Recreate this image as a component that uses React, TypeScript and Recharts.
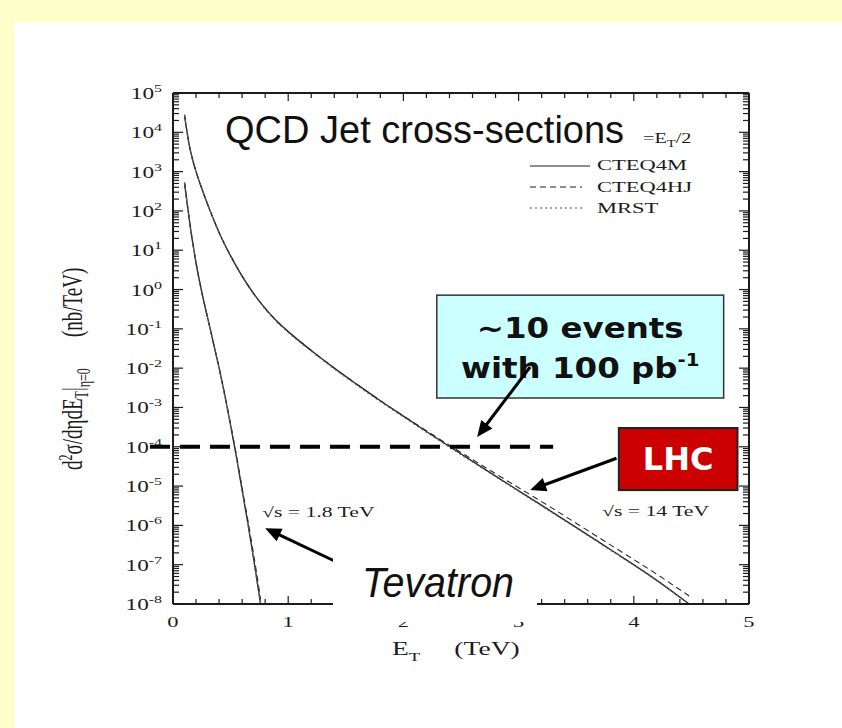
import React from 'react';
import { LineChart, Line, XAxis, YAxis, ReferenceLine, ReferenceArea } from 'recharts';

const W = 842;
const H = 728;

// ---- data: inclusive jet cross-section d2σ/dηdE_T at η=0 (nb/TeV) vs E_T (TeV) ----
const tevEt = [0.1, 0.125, 0.15, 0.175, 0.2, 0.25, 0.3, 0.35, 0.4, 0.45, 0.5, 0.55, 0.6, 0.65, 0.7, 0.75, 0.76];
const tevCteq4m = [525, 141, 39.8, 13.2, 4.79, 0.851, 0.195, 0.0447, 0.0102, 2.0e-3, 3.55e-4, 5.6e-5, 7.9e-6, 1.12e-6, 1.41e-7, 1.58e-8, 1.0e-8];
const tevCteq4hj = [525, 141, 39.8, 13.2, 4.79, 0.851, 0.195, 0.0447, 0.0104, 2.1e-3, 3.8e-4, 6.2e-5, 9.0e-6, 1.35e-6, 1.8e-7, 2.1e-8, 1.3e-8];
const tevMrst = [515, 139, 39.2, 13.0, 4.7, 0.835, 0.19, 0.0435, 0.0099, 1.94e-3, 3.45e-4, 5.4e-5, 7.6e-6, 1.08e-6, 1.36e-7, 1.52e-8, 1.0e-8];

const lhcEt = [0.1, 0.125, 0.15, 0.175, 0.2, 0.25, 0.3, 0.35, 0.4, 0.45, 0.5, 0.6, 0.7, 0.8, 0.9, 1.0, 1.2, 1.4, 1.6, 1.8, 2.0, 2.2, 2.43, 2.84, 3.27, 3.8, 4.2, 4.48];
const lhcCteq4m = [2.8e4, 8.9e3, 3.55e3, 1.78e3, 1.0e3, 372, 148, 63, 28.2, 13.8, 7.2, 2.19, 0.79, 0.331, 0.158, 0.085, 0.0282, 0.01, 3.8e-3, 1.48e-3, 6.0e-4, 2.45e-4, 8.9e-5, 1.51e-5, 2.4e-6, 2.4e-7, 4.0e-8, 1.0e-8];
const lhcCteq4hj = [2.8e4, 8.9e3, 3.55e3, 1.78e3, 1.0e3, 372, 148, 63, 28.2, 13.8, 7.2, 2.19, 0.79, 0.331, 0.158, 0.085, 0.0282, 0.01, 3.8e-3, 1.49e-3, 6.1e-4, 2.55e-4, 9.6e-5, 1.75e-5, 3.0e-6, 3.15e-7, 5.7e-8, 1.6e-8];
const lhcMrst = [2.75e4, 8.8e3, 3.5e3, 1.76e3, 990, 368, 146, 62, 27.6, 13.4, 7.0, 2.12, 0.76, 0.316, 0.15, 0.081, 0.0268, 9.5e-3, 3.6e-3, 1.4e-3, 5.7e-4, 2.33e-4, 8.5e-5, 1.45e-5, 2.3e-6, 2.3e-7, 3.9e-8, 1.0e-8];

const pdfNames = ['CTEQ4M', 'CTEQ4HJ', 'MRST'];
const pdfDash = ['', '6 4', '2 3'];

// axis ticks
const xMajor = [0, 1, 2, 3, 4, 5];
const xMinorPerUnit = 5;
const yDecades = [-8, -7, -6, -5, -4, -3, -2, -1, 0, 1, 2, 3, 4, 5];
const yMinorMult = [2, 3, 4, 5, 6, 7, 8, 9];

// annotations (data coordinates)
const tenEventsLevel = 1e-4;
const tenEventsSpan = [-0.2, 3.3];
const eventsBox = { x1: 2.29, x2: 4.78, y1: 0.72, y2: 1.74e-3 };
const lhcBox = { x1: 3.87, x2: 4.9, y1: 3.0e-4, y2: 7.9e-6 };
const eventsArrow = [{ x: 3.1, y: 1.07e-2 }, { x: 2.64, y: 1.78e-4 }];
const lhcArrow = [{ x: 3.85, y: 5.1e-5 }, { x: 3.1, y: 7.9e-6 }];
const tevArrow = [{ x: 1.42, y: 1.17e-7 }, { x: 0.8, y: 8.5e-7 }];

const toPoints = (xs: number[], ys: number[]) => xs.map((x, i) => ({ x, y: ys[i] }));
const tevSeries = [tevCteq4m, tevCteq4hj, tevMrst].map((ys) => toPoints(tevEt, ys));
const lhcSeries = [lhcCteq4m, lhcCteq4hj, lhcMrst].map((ys) => toPoints(lhcEt, ys));

const xTicks: number[] = [];
for (let i = 0; i < xMajor.length - 1; i++) {
  for (let k = 0; k < xMinorPerUnit; k++) xTicks.push(xMajor[i] + k / xMinorPerUnit);
}
xTicks.push(xMajor[xMajor.length - 1]);

const yTicks: number[] = [];
yDecades.forEach((d, i) => {
  yTicks.push(Math.pow(10, d));
  if (i < yDecades.length - 1) yMinorMult.forEach((m) => yTicks.push(m * Math.pow(10, d)));
});

const SERIF = '"Liberation Serif", "Times New Roman", serif';
const SANS = '"Liberation Sans", Arial, sans-serif';
const BOLD = '"DejaVu Sans", Verdana, sans-serif';
const INK = '#1c1c1c';

const isMajorY = (v: number) => Math.abs(Math.log10(v) - Math.round(Math.log10(v))) < 1e-6;
const isMajorX = (v: number) => Math.abs(v - Math.round(v)) < 1e-6;

const YTickLeft = (props: any) => {
  const { x, y, payload } = props;
  const v = payload.value;
  const major = isMajorY(v);
  const e = Math.round(Math.log10(v));
  return (
    <g>
      <line x1={x} y1={y} x2={x + (major ? 10 : 6)} y2={y} stroke={INK} strokeWidth={1.2} />
      {major && (
        <g transform={`translate(${x - 11},${y + 6}) scale(1.45,1)`}>
          <text textAnchor="end" fontFamily={SERIF} fontSize={16} fill={INK}>
            10
            <tspan dy={-7} fontSize={11}>
              {String(e)}
            </tspan>
          </text>
        </g>
      )}
    </g>
  );
};

const YTickRight = (props: any) => {
  const { x, y, payload } = props;
  const major = isMajorY(payload.value);
  return <line x1={x} y1={y} x2={x - (major ? 10 : 6)} y2={y} stroke={INK} strokeWidth={1.2} />;
};

const XTickBottom = (props: any) => {
  const { x, y, payload } = props;
  const v = payload.value;
  const major = isMajorX(v);
  return (
    <g>
      <line x1={x} y1={y} x2={x} y2={y - (major ? 8 : 5)} stroke={INK} strokeWidth={1.2} />
      {major && (
        <g transform={`translate(${x},${y + 23}) scale(1.5,1)`}>
          <text textAnchor="middle" fontFamily={SERIF} fontSize={15} fill={INK}>
            {Math.round(v)}
          </text>
        </g>
      )}
    </g>
  );
};

const XTickTop = (props: any) => {
  const { x, y, payload } = props;
  const major = isMajorX(payload.value);
  return <line x1={x} y1={y} x2={x} y2={y + (major ? 8 : 5)} stroke={INK} strokeWidth={1.2} />;
};

const arrowShape = (p: any) => {
  const { x1, y1, x2, y2 } = p;
  const dx = x2 - x1;
  const dy = y2 - y1;
  const len = Math.hypot(dx, dy) || 1;
  const ux = dx / len;
  const uy = dy / len;
  const hl = 16;
  const hw = 7;
  const bx = x2 - ux * hl;
  const by = y2 - uy * hl;
  return (
    <g>
      <line x1={x1} y1={y1} x2={bx + ux * 2} y2={by + uy * 2} stroke="#000" strokeWidth={3} />
      <polygon
        points={`${x2},${y2} ${bx - uy * hw},${by + ux * hw} ${bx + uy * hw},${by - ux * hw}`}
        fill="#000"
      />
    </g>
  );
};

const eventsBoxShape = (p: any) => {
  const { x, y, width, height } = p;
  const cx = x + width / 2;
  return (
    <g>
      <rect x={x} y={y} width={width} height={height} fill="#CCFFFF" stroke="#333" strokeWidth={1.5} />
      <g transform={`translate(${cx},${y + 43}) scale(1.16,1)`}>
        <text textAnchor="middle" fontFamily={BOLD} fontWeight="bold" fontSize={28} fill="#111">
          ~10 events
        </text>
      </g>
      <g transform={`translate(${cx},${y + 83}) scale(1.16,1)`}>
        <text textAnchor="middle" fontFamily={BOLD} fontWeight="bold" fontSize={28} fill="#111">
          with 100 pb
          <tspan dy={-12} fontSize={17}>
            -1
          </tspan>
        </text>
      </g>
    </g>
  );
};

const lhcBoxShape = (p: any) => {
  const { x, y, width, height } = p;
  return (
    <g>
      <rect x={x} y={y} width={width} height={height} fill="#CC0000" stroke="#222" strokeWidth={2} />
      <text
        x={x + width / 2}
        y={y + 42}
        textAnchor="middle"
        fontFamily={BOLD}
        fontWeight="bold"
        fontSize={32}
        fill="#fff"
      >
        LHC
      </text>
    </g>
  );
};

const Overlay = () => (
  <svg
    width={W}
    height={H}
    style={{ position: 'absolute', left: 0, top: 0, pointerEvents: 'none' }}
  >
    {/* title */}
    <rect x={220} y={108} width={418} height={44} fill="#fff" />
    <text x={225} y={143} fontFamily={SANS} fontSize={38} fill="#111">
      QCD Jet cross-sections
    </text>
    <g transform="translate(643,143) scale(1.45,1)">
      <text fontFamily={SERIF} fontSize={14} fill={INK}>
        =E
        <tspan dy={4} fontSize={10}>
          T
        </tspan>
        <tspan dy={-4}>/2</tspan>
      </text>
    </g>

    {/* legend */}
    {pdfNames.map((name, i) => (
      <g key={name}>
        <line
          x1={530}
          x2={i === 0 ? 590 : i === 1 ? 582 : 585}
          y1={166 + i * 21}
          y2={166 + i * 21}
          stroke={i === 2 ? '#555' : INK}
          strokeWidth={1.1}
          strokeDasharray={pdfDash[i] || undefined}
        />
        <g transform={`translate(597,${170 + i * 21.5}) scale(1.5,1)`}>
          <text fontFamily={SERIF} fontSize={15} fill={INK}>
            {name}
          </text>
        </g>
      </g>
    ))}

    {/* energy labels */}
    <g transform="translate(262,517) scale(1.55,1)">
      <text fontFamily={SERIF} fontSize={14} fill={INK}>
        √s = 1.8 TeV
      </text>
    </g>
    <g transform="translate(602,516) scale(1.55,1)">
      <text fontFamily={SERIF} fontSize={14} fill={INK}>
        √s = 14 TeV
      </text>
    </g>

    {/* Tevatron label */}
    <rect x={333} y={553} width={204} height={69} fill="#fff" />
    <text
      x={362}
      y={597}
      fontFamily={SANS}
      fontStyle="italic"
      fontSize={42}
      fill="#111"
      textLength={152}
      lengthAdjust="spacingAndGlyphs"
    >
      Tevatron
    </text>

    {/* axis titles */}
    <g transform="translate(392,655) scale(1.45,1)">
      <text fontFamily={SERIF} fontSize={19} fill={INK}>
        E
        <tspan dy={6} fontSize={13}>
          T
        </tspan>
      </text>
      <text x={43} fontFamily={SERIF} fontSize={19} fill={INK}>
        (TeV)
      </text>
    </g>
    <g transform="translate(82,470) rotate(-90) scale(1,1.5)">
      <text x={0} y={0} fontFamily={SERIF} fontSize={19} fill={INK}>
        d
        <tspan dy={-7} fontSize={12}>
          2
        </tspan>
        <tspan dy={7}>σ/dηdE</tspan>
        <tspan dy={4} fontSize={12}>
          T
        </tspan>
        <tspan dy={-4}>|</tspan>
        <tspan dy={5} fontSize={12}>
          η=0
        </tspan>
      </text>
      <text x={133} y={0} fontFamily={SERIF} fontSize={19} fill={INK}>
        (nb/TeV)
      </text>
    </g>
  </svg>
);

export default function App() {
  return (
    <div
      style={{
        position: 'absolute',
        left: 0,
        top: 0,
        width: W,
        height: H,
        background: '#FFFFCC',
        overflow: 'hidden',
      }}
    >
      <div
        style={{ position: 'absolute', left: 14, top: 22, right: 0, bottom: 0, background: '#fff' }}
      />
      <div style={{ position: 'absolute', left: 0, top: 0 }}>
        <LineChart width={W} height={H} margin={{ top: 83, right: 83, bottom: 94, left: 113 }}>
          <XAxis
            xAxisId="b"
            dataKey="x"
            type="number"
            domain={[0, 5]}
            allowDataOverflow
            ticks={xTicks}
            interval={0}
            height={30}
            tickSize={0}
            tickMargin={0}
            tickLine={false}
            axisLine={{ stroke: INK, strokeWidth: 2 }}
            tick={<XTickBottom />}
          />
          <XAxis
            xAxisId="t"
            orientation="top"
            dataKey="x"
            type="number"
            domain={[0, 5]}
            allowDataOverflow
            ticks={xTicks}
            interval={0}
            height={10}
            tickSize={0}
            tickMargin={0}
            tickLine={false}
            axisLine={{ stroke: INK, strokeWidth: 2 }}
            tick={<XTickTop />}
          />
          <YAxis
            yAxisId="l"
            scale="log"
            type="number"
            domain={[1e-8, 1e5]}
            allowDataOverflow
            ticks={yTicks}
            interval={0}
            width={60}
            tickSize={0}
            tickMargin={0}
            tickLine={false}
            axisLine={{ stroke: INK, strokeWidth: 2 }}
            tick={<YTickLeft />}
          />
          <YAxis
            yAxisId="r"
            orientation="right"
            scale="log"
            type="number"
            domain={[1e-8, 1e5]}
            allowDataOverflow
            ticks={yTicks}
            interval={0}
            width={10}
            tickSize={0}
            tickMargin={0}
            tickLine={false}
            axisLine={{ stroke: INK, strokeWidth: 2 }}
            tick={<YTickRight />}
          />

          {[...tevSeries, ...lhcSeries].map((pts, i) => (
            <Line
              key={i}
              xAxisId="b"
              yAxisId="l"
              data={pts}
              dataKey="y"
              name={pdfNames[i % 3]}
              type="monotone"
              stroke={i % 3 === 2 ? '#666' : '#2a2a2a'}
              strokeWidth={i % 3 === 0 ? 1.4 : 1.1}
              strokeDasharray={pdfDash[i % 3] || undefined}
              dot={false}
              activeDot={false}
              isAnimationActive={false}
            />
          ))}

          <ReferenceLine
            xAxisId="b"
            yAxisId="l"
            segment={[
              { x: tenEventsSpan[0], y: tenEventsLevel },
              { x: tenEventsSpan[1], y: tenEventsLevel },
            ]}
            stroke="#000"
            strokeWidth={4}
            strokeDasharray="20 10"
            ifOverflow="visible"
          />

          <ReferenceArea
            xAxisId="b"
            yAxisId="l"
            {...eventsBox}
            ifOverflow="visible"
            shape={eventsBoxShape}
          />
          <ReferenceArea
            xAxisId="b"
            yAxisId="l"
            {...lhcBox}
            ifOverflow="visible"
            shape={lhcBoxShape}
          />

          {[eventsArrow, lhcArrow, tevArrow].map((seg, i) => (
            <ReferenceLine
              key={i}
              xAxisId="b"
              yAxisId="l"
              segment={seg}
              ifOverflow="visible"
              shape={arrowShape}
            />
          ))}
        </LineChart>
      </div>
      <Overlay />
    </div>
  );
}
